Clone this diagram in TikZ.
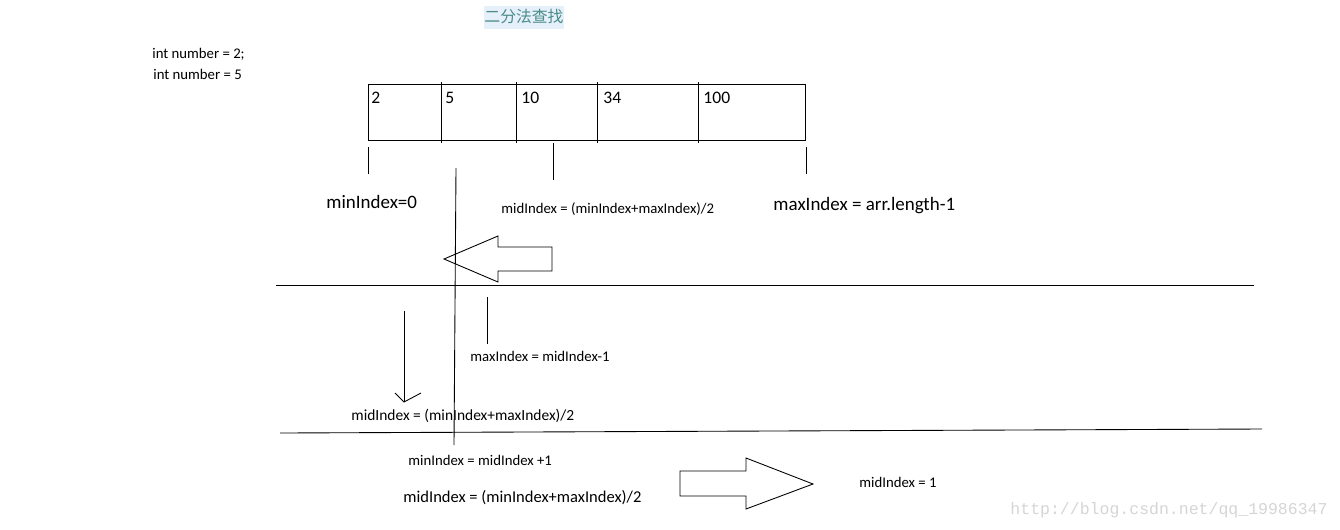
\documentclass[tikz,border=0pt]{standalone}
\usepackage{fontspec}
\usepackage{xcolor}
\setmainfont{Carlito}
\newfontfamily\cjk{Noto Sans CJK SC}
\newfontfamily\wmfont{Liberation Mono}
\usetikzlibrary{positioning}
\definecolor{titlebg}{HTML}{E5F0FA}
\definecolor{titlefg}{HTML}{4A8C86}
\definecolor{wmgray}{HTML}{D5D5D5}

\begin{document}
\begin{tikzpicture}[x=0.02cm,y=-0.02cm,line width=0.5pt,
    note/.style={anchor=mid west,inner sep=0pt,font=\fontsize{8.4}{10}\selectfont},
    bignote/.style={anchor=mid west,inner sep=0pt,font=\fontsize{10.8}{13}\selectfont},
    cellnum/.style={anchor=mid west,inner sep=0pt,font=\fontsize{10}{12}\selectfont}]
                \useasboundingbox (0,0) rectangle (1340,529);

                % Title
                \node[fill=titlebg,text=titlefg,minimum width=1.6cm,minimum height=0.46cm,inner sep=0pt,font=\cjk\fontsize{9}{11}\selectfont] (title) at (524,17) {二分法查找};

                % Numbers to look for
                \node[note] (numA) at (152,54) {int number = 2;};
                \node[note] (numB) at (153,75) {int number = 5};

                % The array
                \draw (368,84) rectangle (805,140);
                \foreach \x in {441,516,597,698}
                    \draw (\x,82) -- (\x,143);
                \node[cellnum] (cellA) at (371,99) {2};
                \node[cellnum] (cellB) at (445,99) {5};
                \node[cellnum] (cellC) at (521,99) {10};
                \node[cellnum] (cellD) at (603,99) {34};
                \node[cellnum] (cellE) at (703,99) {100};

                % Index pointers
                \draw (368,147) -- (368,174);
                \draw (553,143) -- (553,180);
                \draw (806,147) -- (806,174);
                \node[bignote] (minIdx) at (326,204) {minIndex=0};
                \node[note] (midIdx) at (501,209) {midIndex = (minIndex+maxIndex)/2};
                \node[bignote] (maxIdx) at (773,206) {maxIndex = arr.length-1};

                % Search line
                \draw (456,168) -- (454,445);

                % Go left
                \draw (444,259) -- (498,236) -- (498,247) -- (552,247) -- (552,271) -- (498,271) -- (498,282) -- cycle;

                % First step
                \draw (276,285) -- (1254,285);
                \draw (487,297) -- (487,344);
                \node[note] (maxNew) at (470,357) {maxIndex = midIndex-1};
                \draw (404,311) -- (404,402);
                \draw (395,393) -- (404,402) -- (421,393);
                \node[note,font=\fontsize{8.8}{10}\selectfont] (midTwo) at (351,416) {midIndex = (minIndex+maxIndex)/2};

                % Second step
                \draw (280,433) -- (1262,429);
                \node[note] (minNew) at (408,461) {minIndex = midIndex +1};
                \node[note,font=\fontsize{9.4}{11}\selectfont] (midThree) at (403,498) {midIndex = (minIndex+maxIndex)/2};
                \draw (680,471) -- (746,471) -- (746,458) -- (813,484) -- (746,509) -- (746,496) -- (680,496) -- cycle;
                \node[note] (midResult) at (859,483) {midIndex = 1};

                % Watermark
                \node[anchor=mid west,inner sep=0pt,text=wmgray,font=\wmfont\fontsize{9.4}{11}\selectfont] (wm) at (1010,510) {http://blog.csdn.net/qq\_19986347};
\end{tikzpicture}
\end{document}
